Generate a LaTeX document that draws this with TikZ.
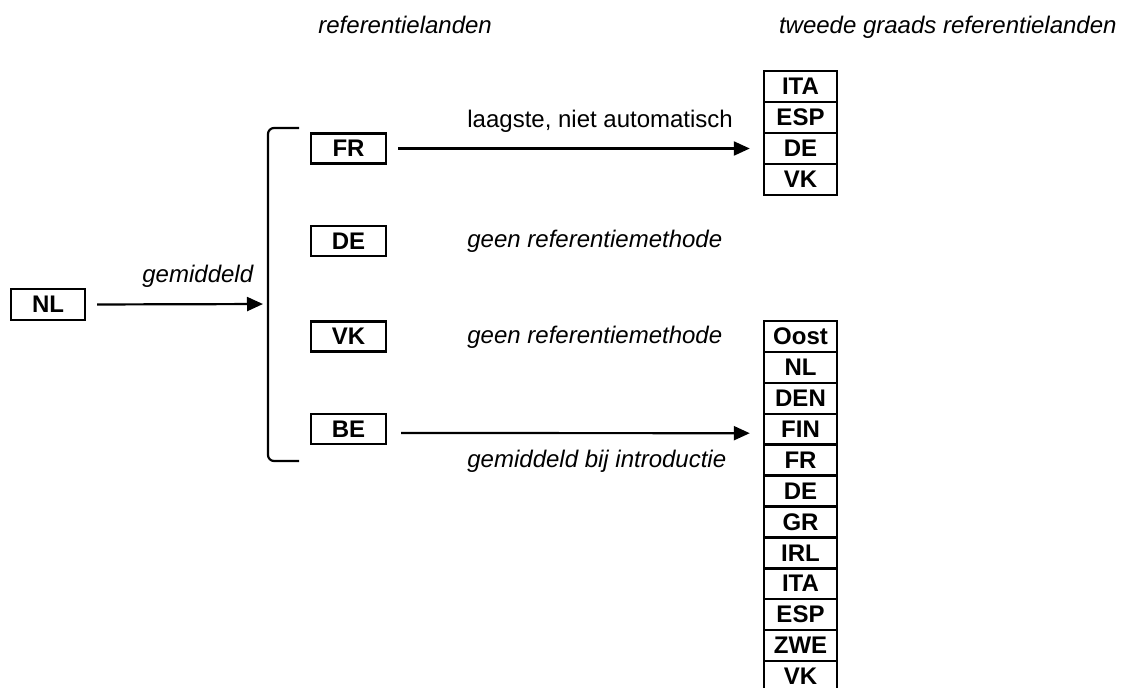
\documentclass[tikz,border=0pt]{standalone}
\usepackage{fontspec}
\setmainfont{Liberation Sans}
\usetikzlibrary{arrows.meta}
\begin{document}
\begin{tikzpicture}[x=0.5pt,y=-0.5pt,
  every node/.style={font=\fontsize{12}{14}\selectfont},
  box/.style={draw, line width=1.2pt, minimum width=37.5pt, minimum height=15pt, inner sep=0pt, font=\fontsize{12}{14}\selectfont\bfseries},
  cell/.style={draw, line width=1.2pt, minimum width=36.5pt, minimum height=15.5pt, inner sep=0pt, font=\fontsize{12}{14}\selectfont\bfseries},
  lbl/.style={anchor=base west, inner sep=0pt, font=\fontsize{12}{14}\selectfont\itshape},
  arr/.style={line width=1.1pt, -{Triangle[length=8pt,width=7pt]}}]
\clip (0,0) rectangle (1121,687);
\fill[white] (0,0) rectangle (1121,687);
% headers
\node[lbl] (h1) at (318,33) {referentielanden};
\node[lbl, anchor=base east] (h2) at (1117,33) {tweede graads referentielanden};
% NL
\node[box, minimum width=37pt, minimum height=15.5pt] (NL) at (48,304.5) {NL};
% bracket
\coordinate (bt) at (299,128);
\coordinate (btl) at (268,128);
\coordinate (bbl) at (268,461);
\coordinate (bb) at (299,461);
\coordinate (brk) at (268,304);
\draw[line width=1.1pt, rounded corners=3pt] (bt) -- (btl) -- (bbl) -- (bb);
\draw[arr, shorten <=5.5pt, shorten >=2.5pt] (NL.east) -- (brk);
\node[lbl] (gem) at (142,282) {gemiddeld};
% reference countries
\node[box] (FR) at (348.5,148.5) {FR};
\node[box] (DE) at (348.5,241) {DE};
\node[box] (VK) at (348.5,336.5) {VK};
\node[box] (BE) at (348.5,429) {BE};
% top table
\foreach \t [count=\i] in {ITA,ESP,DE,VK}
  \node[cell] (t\i) at (800.5,{86.5+31*(\i-1)}) {\t};
% bottom table
\foreach \t [count=\i] in {Oost,NL,DEN,FIN,FR,DE,GR,IRL,ITA,ESP,ZWE,VK}
  \node[cell] (b\i) at (800.5,{336.5+30.9*(\i-1)}) {\t};
% arrows
\draw[arr, shorten <=5.5pt, shorten >=6.5pt] (FR.east) -- (t3.west);
\draw[arr, shorten <=7pt, shorten >=6.5pt] ([yshift=-2pt]BE.east) -- ([yshift=-2pt]b4.west);
% labels
\node[lbl, font=\fontsize{12}{14}\selectfont] (l1) at (467,127) {laagste, niet automatisch};
\node[lbl] (l2) at (467,247) {geen referentiemethode};
\node[lbl] (l3) at (467,343) {geen referentiemethode};
\node[lbl] (l4) at (467,467) {gemiddeld bij introductie};
\end{tikzpicture}
\end{document}
